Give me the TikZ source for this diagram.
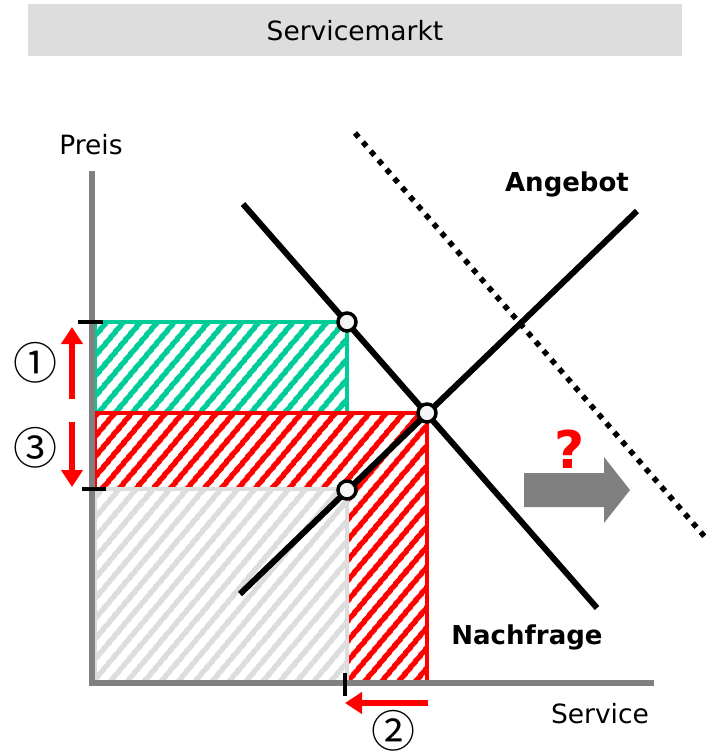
\documentclass[tikz,border=0pt]{standalone}
\usepackage{fontspec}
\setmainfont{DejaVu Sans}
\newfontfamily\cjk{Noto Sans CJK JP}
\usetikzlibrary{patterns.meta, arrows.meta}
\definecolor{mintgreen}{HTML}{00CC99}
\definecolor{bargray}{HTML}{DDDDDD}
\definecolor{axisgray}{HTML}{808080}

\begin{document}
\begin{tikzpicture}[x=1pt,y=-1pt]
	\tikzstyle{axis} = [axisgray,line width=6pt]
	\tikzstyle{curve} = [black,line width=6pt]
	\tikzstyle{newcurve} = [black,line width=5.5pt,dash pattern=on 5.5pt off 6.5pt]
	\tikzstyle{point} = [circle,fill=white!96!black,draw=black,line width=3.5pt,minimum size=18pt,inner sep=0pt]
	\tikzstyle{tickmark} = [black,line width=3.5pt]
	\tikzstyle{move} = [red,line width=6pt,-{Triangle[width=21pt,length=17pt]}]
	\tikzstyle{txt} = [font=\fontsize{26.5}{30}\selectfont,inner sep=0pt]
	\tikzstyle{boldtxt} = [font=\fontsize{26}{30}\bfseries,inner sep=0pt]
	\tikzstyle{num} = [font=\cjk\fontsize{44}{48}\selectfont,inner sep=0pt]
	\tikzstyle{hatch} = [pattern={Lines[angle=50,distance=13pt,line width=5.5pt]}]
	\useasboundingbox (0,0) rectangle (705,752);
	% title bar
	\fill[bargray] (28,4) rectangle (682,56);
	\node[txt] (title) at (355,31) {Servicemarkt};
	% areas
	\fill[hatch,pattern color=mintgreen] (95,322) rectangle (347,413);
	\draw[mintgreen,line width=3.5pt] (95,322) rectangle (347,413);
	\fill[hatch,pattern color=red] (95,413) -- (427,413) -- (427,682) -- (347,682) -- (347,489) -- (95,489) -- cycle;
	\draw[red,line width=3.5pt] (95,413) -- (427,413) -- (427,682) -- (347,682) -- (347,489) -- (95,489) -- cycle;
	\fill[hatch,pattern color=bargray] (95,489) rectangle (347,682);
	\draw[bargray,line width=3.5pt] (95,489) rectangle (347,682);
	% axes
	\coordinate (o) at (92,683);
	\coordinate (ytop) at (92,171);
	\coordinate (xend) at (654,683);
	\draw[axis] (ytop) -- ([yshift=3pt]o);
	\draw[axis] ([xshift=-3pt]o) -- (xend);
	\node[txt] (preis) at (91,145) {Preis};
	\node[txt] (service) at (600,714) {Service};
	% curves
	\coordinate (d1) at (243,204);
	\coordinate (d2) at (597,608);
	\coordinate (s1) at (240,594);
	\coordinate (s2) at (637,211);
	\coordinate (n1) at (355,133);
	\coordinate (n2) at (705,537);
	\draw[curve] (d1) -- (d2);
	\draw[curve] (s1) -- (s2);
	\draw[newcurve] (n1) -- (n2);
	\node[boldtxt] (angebot) at (567,184) {Angebot};
	\node[boldtxt] (nachfrage) at (527,637) {Nachfrage};
	% points
	\node[point] (e1) at (347,322) {};
	\node[point] (e2) at (427,413) {};
	\node[point] (e3) at (347,490) {};
	% ticks
	\coordinate (t1a) at (78,322);
	\coordinate (t1b) at (103,322);
	\coordinate (t2a) at (82,489);
	\coordinate (t2b) at (106,489);
	\coordinate (t3a) at (345,673);
	\coordinate (t3b) at (345,696);
	\draw[tickmark] (t1a) -- (t1b);
	\draw[tickmark] (t2a) -- (t2b);
	\draw[tickmark] (t3a) -- (t3b);
	% changes
	\coordinate (a1a) at (72,399);
	\coordinate (a1b) at (72,327);
	\coordinate (a3a) at (72,422);
	\coordinate (a3b) at (72,487);
	\coordinate (a2a) at (428,703);
	\coordinate (a2b) at (345,703);
	\draw[move] (a1a) -- (a1b);
	\draw[move] (a3a) -- (a3b);
	\draw[move] (a2a) -- (a2b);
	\node[num] (c1) at (35,363) {①};
	\node[num] (c3) at (35,448) {③};
	\node[num] (c2) at (393,731) {②};
	% outlook
	\fill[axisgray] (524,473) -- (604,473) -- (604,457) -- (630,490) -- (604,523) -- (604,507) -- (524,507) -- cycle;
	\node[font=\fontsize{52}{56}\bfseries,text=red,inner sep=0pt] (q) at (570,449) {?};
\end{tikzpicture}
\end{document}
